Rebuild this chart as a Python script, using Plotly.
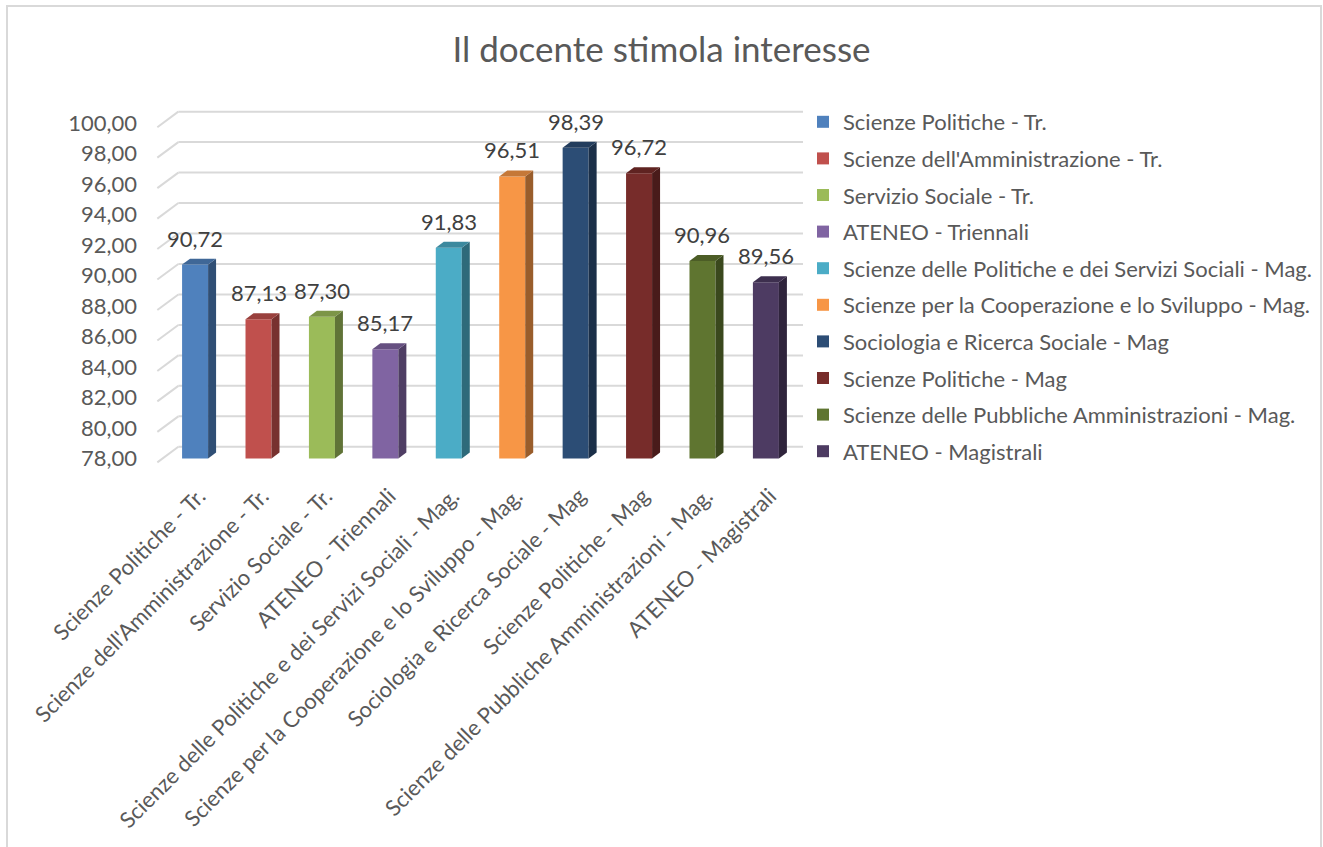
import plotly.graph_objects as go

# --- data -------------------------------------------------------------
categories = [
    "Scienze Politiche - Tr.",
    "Scienze dell'Amministrazione - Tr.",
    "Servizio Sociale - Tr.",
    "ATENEO - Triennali",
    "Scienze delle Politiche e dei Servizi Sociali - Mag.",
    "Scienze per la Cooperazione e lo Sviluppo - Mag.",
    "Sociologia e Ricerca Sociale - Mag",
    "Scienze Politiche - Mag",
    "Scienze delle Pubbliche Amministrazioni - Mag.",
    "ATENEO - Magistrali",
]
values = [90.72, 87.13, 87.30, 85.17, 91.83, 96.51, 98.39, 96.72, 90.96, 89.56]
y_ticks = [78, 80, 82, 84, 86, 88, 90, 92, 94, 96, 98, 100]

colors = ["#4F81BD", "#C0504D", "#9BBB59", "#8064A2", "#4BACC6",
          "#F79646", "#2C4D75", "#772C2A", "#5F7530", "#4D3B62"]

# --- geometry of the pseudo-3D view (data units) -----------------------
Y_MIN = 78
BAR_W = 0.41            # front face width
DEPTH_X, DEPTH_Y = 0.126, 0.39    # bar depth offset (right / up)
WALL_X, WALL_Y = 0.236, 0.76      # back wall offset from the bar plane
FRONT_X, FRONT_Y = -0.095, -0.26  # front edge offset from the bar plane
X_RANGE = [-0.9, 9.9]
Y_RANGE = [77.5, 101]

W, H = 1323, 847
M_L, M_R, M_T, M_B = 138, 500, 108, 381
PLOT_W, PLOT_H = W - M_L - M_R, H - M_T - M_B

GRID = "#D9D9D9"
TEXT = "#595959"
FONT = "Lato"


def shade(hex_color, f):
    h = hex_color.lstrip("#")
    r, g, b = (int(h[i:i + 2], 16) for i in (0, 2, 4))
    return "#{:02X}{:02X}{:02X}".format(int(r * f), int(g * f), int(b * f))


def px_to_paper_x(px):
    return (px - M_L) / PLOT_W


def px_to_paper_y(py):
    return (H - M_B - py) / PLOT_H


fig = go.Figure()

# front faces of the columns
for i, (name, v, c) in enumerate(zip(categories, values, colors)):
    fig.add_trace(go.Bar(
        x=[i], y=[v - Y_MIN], base=Y_MIN, width=BAR_W, name=name,
        marker=dict(color=c, line=dict(width=0)),
        legendgroup=f"g{i}", hoverinfo="skip",
    ))

# side and top faces
for i, (v, c) in enumerate(zip(values, colors)):
    xl, xr = i - BAR_W / 2, i + BAR_W / 2
    side_x = [xr, xr + DEPTH_X, xr + DEPTH_X, xr, xr]
    side_y = [Y_MIN, Y_MIN + DEPTH_Y, v + DEPTH_Y, v, Y_MIN]
    top_x = [xl, xr, xr + DEPTH_X, xl + DEPTH_X, xl]
    top_y = [v, v, v + DEPTH_Y, v + DEPTH_Y, v]
    for fx, fy, f in ((side_x, side_y, 0.62), (top_x, top_y, 0.8)):
        fig.add_trace(go.Scatter(
            x=fx, y=fy, mode="lines", fill="toself",
            fillcolor=shade(c, f), line=dict(width=0),
            legendgroup=f"g{i}", showlegend=False, hoverinfo="skip",
        ))

# back-wall gridlines with their receding left edge
n = len(categories)
shapes = []
for t in y_ticks:
    shapes.append(dict(
        type="line", xref="x", yref="y", layer="below",
        x0=-0.5 + FRONT_X, y0=t + FRONT_Y, x1=-0.5 + WALL_X, y1=t + WALL_Y,
        line=dict(color=GRID, width=2),
    ))
    shapes.append(dict(
        type="line", xref="x", yref="y", layer="below",
        x0=-0.5 + WALL_X, y0=t + WALL_Y, x1=n - 0.5 + WALL_X, y1=t + WALL_Y,
        line=dict(color=GRID, width=2),
    ))

# chart frame
shapes.append(dict(
    type="rect", xref="paper", yref="paper",
    x0=px_to_paper_x(7), x1=px_to_paper_x(1321),
    y0=px_to_paper_y(H + 10), y1=px_to_paper_y(6),
    line=dict(color=GRID, width=2), fillcolor="rgba(0,0,0,0)", layer="below",
))

# value labels
annotations = []
for i, v in enumerate(values):
    annotations.append(dict(
        x=i, y=v, xref="x", yref="y", text=f"{v:.2f}".replace(".", ","),
        showarrow=False, yanchor="bottom", yshift=11,
        font=dict(family=FONT, size=22, color="#404040"),
    ))

fig.update_layout(
    width=W, height=H,
    margin=dict(l=M_L, r=M_R, t=M_T, b=M_B, autoexpand=False),
    paper_bgcolor="white", plot_bgcolor="white",
    separators=",.",
    barmode="overlay",
    shapes=shapes, annotations=annotations,
    title=dict(
        text="Il docente stimola interesse", x=0.5, xref="container",
        y=1 - 50 / H, yref="container", xanchor="center", yanchor="middle",
        font=dict(family=FONT, size=35, color=TEXT),
    ),
    xaxis=dict(
        range=X_RANGE, tickvals=list(range(n)), ticktext=categories,
        tickangle=-45, showgrid=False, zeroline=False, showline=False,
        ticks="", automargin=False, ticklabelstandoff=12, ticklabelshift=4,
        tickfont=dict(family=FONT, size=22, color=TEXT),
    ),
    yaxis=dict(
        range=Y_RANGE, tickvals=y_ticks, tickformat=".2f",
        showgrid=False, zeroline=False, showline=False, ticks="",
        automargin=False,
        tickfont=dict(family=FONT, size=22, color=TEXT),
    ),
    legend=dict(
        x=803 / W, xref="container", xanchor="left",
        y=1 - 101 / H, yref="container", yanchor="top",
        font=dict(family=FONT, size=22, color=TEXT),
        tracegroupgap=5, traceorder="grouped",
    ),
    showlegend=True,
)

fig.write_html("out.html")
